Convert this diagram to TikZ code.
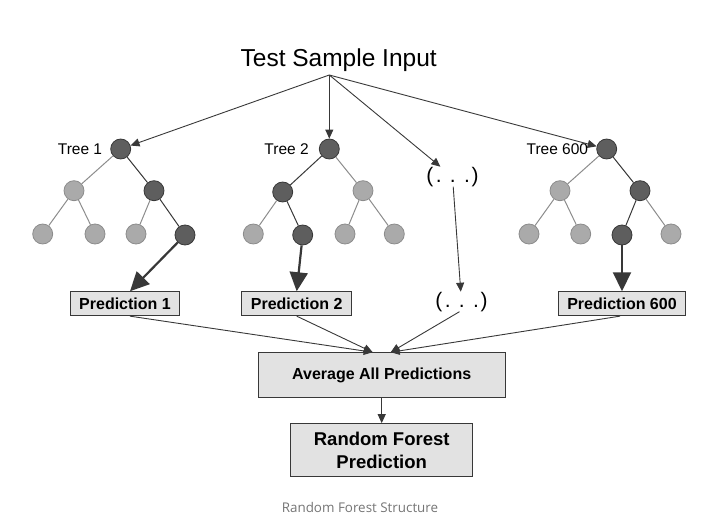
\documentclass[tikz,border=0pt]{standalone}
\usepackage{fontspec}
\setmainfont{Liberation Sans}
\newfontfamily\capfont{Open Sans}
\usetikzlibrary{positioning,arrows.meta}
\definecolor{node-dk}{HTML}{5E5E5E}
\definecolor{node-lt}{HTML}{AAAAAA}
\definecolor{edge-dk}{HTML}{383838}
\definecolor{edge-lt}{HTML}{8C8C8C}
\definecolor{box-f}{HTML}{E2E2E2}
\definecolor{cap-c}{HTML}{757575}

\begin{document}
\begin{tikzpicture}
[
x=1pt, y=-1pt,
cell-d/.style={circle, draw=edge-dk, fill=node-dk, line width=0.8pt, minimum size=20pt, inner sep=0pt},
cell-l/.style={circle, draw=edge-lt, fill=node-lt, line width=0.8pt, minimum size=20pt, inner sep=0pt},
box-a/.style={draw=edge-dk, fill=box-f, line width=0.9pt, inner xsep=9pt, inner ysep=0pt, minimum height=24pt, font=\fontsize{16}{19}\selectfont\bfseries},
text-a/.style={black, inner sep=0pt, font=\fontsize{15.5}{18}\selectfont},
text-b/.style={black, inner sep=0pt, font=\fontsize{24.5}{28}\selectfont},
text-c/.style={black, inner sep=0pt, font=\fontsize{21}{24}\selectfont},
edge-a/.style={draw=edge-lt, line width=1pt},
edge-b/.style={draw=edge-dk, line width=1pt},
arr-a/.style={draw=edge-dk, line width=0.9pt, -{Triangle[length=9pt, width=8pt]}},
arr-b/.style={draw=edge-dk, line width=2.2pt, -{Triangle[length=19pt, width=18pt]}}
]
\useasboundingbox (0,0) rectangle (721,524);

% input
\node (inp)      [text-b, anchor=base] at (338.7,66.7) {Test Sample Input};
\coordinate (src) at (329.3,75);

% tree 1
\node (t1-r)     [cell-d] at (120.7,149) {};
\node (t1-a)     [cell-l] at (74,190.7)  {};
\node (t1-b)     [cell-d] at (154,190.7) {};
\node (t1-a1)    [cell-l] at (42.7,234)  {};
\node (t1-a2)    [cell-l] at (95,234)    {};
\node (t1-b1)    [cell-l] at (136,234)   {};
\node (t1-b2)    [cell-d] at (185,235)   {};
\node (t1-lab)   [text-a, left = 8pt of t1-r] {Tree 1};

% tree 2
\node (t2-r)     [cell-d] at (329.3,149) {};
\node (t2-a)     [cell-d] at (282.7,192) {};
\node (t2-b)     [cell-l] at (363,190.7) {};
\node (t2-a1)    [cell-l] at (253.3,234) {};
\node (t2-a2)    [cell-d] at (302.7,235) {};
\node (t2-b1)    [cell-l] at (345,234)   {};
\node (t2-b2)    [cell-l] at (394.3,234) {};
\node (t2-lab)   [text-a, left = 10pt of t2-r] {Tree 2};

% tree 600
\node (t3-r)     [cell-d] at (606.7,149) {};
\node (t3-a)     [cell-l] at (560,190.7) {};
\node (t3-b)     [cell-d] at (640,190.7) {};
\node (t3-a1)    [cell-l] at (529,234)   {};
\node (t3-a2)    [cell-l] at (580.7,234) {};
\node (t3-b1)    [cell-d] at (622,235)   {};
\node (t3-b2)    [cell-l] at (671,234)   {};
\node (t3-lab)   [text-a, left = 8pt of t3-r] {Tree 600};

% dots
\node (dots-1)   [text-c] at (452.5,176.7) {(\hspace{0.12em}.\hspace{0.4em}.\hspace{0.4em}.\hspace{0.08em})};
\node (dots-2)   [text-c] at (461.5,301.7) {(\hspace{0.12em}.\hspace{0.4em}.\hspace{0.4em}.\hspace{0.08em})};

% predictions
\node (pred-1)   [box-a] at (125,303.7)   {Prediction 1};
\node (pred-2)   [box-a] at (296.7,303.7) {Prediction 2};
\node (pred-600) [box-a] at (622,303.7)   {Prediction 600};
\node (avg)      [box-a, minimum width=247pt, minimum height=45pt] at (381.7,375.2) {Average All Predictions};
\node (rf)       [box-a, minimum width=182pt, minimum height=53.3pt, align=center, below = 25pt of avg,
                  font=\fontsize{18.5}{22.7}\selectfont\bfseries] {Random Forest\\Prediction};

% caption
\node (cap)      [inner sep=0pt, text=cap-c, font=\capfont\fontsize{13.4}{16}\selectfont] at (360,507) {Random Forest Structure};

% tree edges
\draw [edge-b] (t1-r) -- (t1-b);
\draw [edge-a] (t1-r) -- (t1-a);
\draw [edge-a] (t1-a) -- (t1-a1);
\draw [edge-a] (t1-a) -- (t1-a2);
\draw [edge-a] (t1-b) -- (t1-b1);
\draw [edge-b] (t1-b) -- (t1-b2);

\draw [edge-b] (t2-r) -- (t2-a);
\draw [edge-a] (t2-r) -- (t2-b);
\draw [edge-a] (t2-a) -- (t2-a1);
\draw [edge-b] (t2-a) -- (t2-a2);
\draw [edge-a] (t2-b) -- (t2-b1);
\draw [edge-a] (t2-b) -- (t2-b2);

\draw [edge-a] (t3-r) -- (t3-a);
\draw [edge-b] (t3-r) -- (t3-b);
\draw [edge-a] (t3-a) -- (t3-a1);
\draw [edge-a] (t3-a) -- (t3-a2);
\draw [edge-b] (t3-b) -- (t3-b1);
\draw [edge-a] (t3-b) -- (t3-b2);

% input arrows
\draw [arr-a] (src) -- (t1-r);
\draw [arr-a] (src) -- (t2-r);
\draw [arr-a] (src) -- (dots-1);
\draw [arr-a] (src) -- (t3-r);
\draw [arr-a] (dots-1) -- (dots-2);

% tree outputs
\draw [arr-b] (t1-b2) -- ([xshift=5pt]pred-1.north);
\draw [arr-b] (t2-a2) -- (pred-2.north);
\draw [arr-b] (t3-b1) -- (pred-600.north);

% averaging
\draw [arr-a] ([xshift=5pt]pred-1.south) -- ([xshift=-9pt]avg.north);
\draw [arr-a] (pred-2.south)             -- ([xshift=-9pt]avg.north);
\draw [arr-a] ([xshift=-2pt]dots-2.south) -- ([xshift=9pt]avg.north);
\draw [arr-a] ([xshift=-2pt]pred-600.south) -- ([xshift=9pt]avg.north);
\draw [arr-a] (avg) -- (rf);
\end{tikzpicture}
\end{document}
